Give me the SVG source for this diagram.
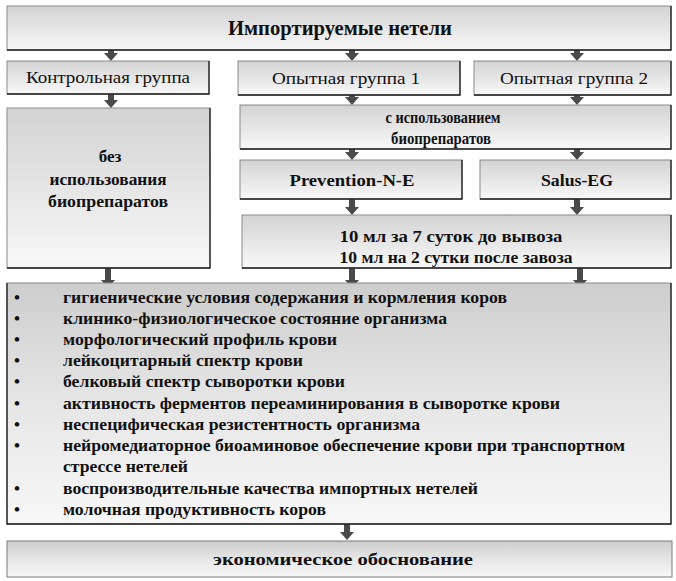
<svg xmlns="http://www.w3.org/2000/svg" width="676" height="581" viewBox="0 0 676 581" font-family="Liberation Serif, Times New Roman, serif">
<defs>
<linearGradient id="g" x1="0" y1="0" x2="0" y2="1">
<stop offset="0" stop-color="#d3d3d3"/>
<stop offset="1" stop-color="#f8f8f8"/>
</linearGradient>
<linearGradient id="g2" x1="0" y1="0" x2="0" y2="1">
<stop offset="0" stop-color="#cdcdcd"/>
<stop offset="0.5" stop-color="#e6e6e6"/>
<stop offset="1" stop-color="#f7f7f7"/>
</linearGradient>
<style>
.box{fill:url(#g);stroke:#8a8a8a;stroke-width:1}
.edge{fill:none;stroke:#1e1e1e;stroke-width:1.3}
.t{font-size:17px;fill:#111;text-anchor:middle}
.b{font-weight:bold}
.li{font-size:17px;font-weight:bold;fill:#111}
.arr{fill:#4a4a4a}
</style>
</defs>
<rect width="676" height="581" fill="#ffffff"/>

<g id="connectors">
<polygon class="arr" points="108,50 114,50 114,53 118,53 111,61 104,53 108,53"/>
<polygon class="arr" points="349,50 355,50 355,53 359,53 352,61 345,53 349,53"/>
<polygon class="arr" points="574,50 580,50 580,53 584,53 577,61 570,53 574,53"/>
<polygon class="arr" points="108,94 114,94 114,100 118,100 111,108 104,100 108,100"/>
<polygon class="arr" points="349,95 355,95 355,97 359,97 352,105 345,97 349,97"/>
<polygon class="arr" points="574,95 580,95 580,97 584,97 577,105 570,97 574,97"/>
<polygon class="arr" points="349,149 355,149 355,152 359,152 352,160 345,152 349,152"/>
<polygon class="arr" points="574,149 580,149 580,152 584,152 577,160 570,152 574,152"/>
<polygon class="arr" points="349,199 355,199 355,207 359,207 352,215 345,207 349,207"/>
<polygon class="arr" points="574,199 580,199 580,207 584,207 577,215 570,207 574,207"/>
<polygon class="arr" points="105,268 111,268 111,280 115,280 108,288 101,280 105,280"/>
<polygon class="arr" points="349,268 355,268 355,280 359,280 352,288 345,280 349,280"/>
<polygon class="arr" points="577,268 583,268 583,280 587,280 580,288 573,280 577,280"/>
<polygon class="arr" points="344,524 350,524 350,532 354,532 347,540 340,532 344,532"/>
</g>

<g id="top">
<rect class="box" x="7" y="6" width="664" height="44"/>
<polyline class="edge" points="7,50 671,50 671,6"/>
<text class="t b" x="340" y="35" style="font-size:20px" textLength="224" lengthAdjust="spacingAndGlyphs">Импортируемые нетели</text>
</g>

<g id="control">
<rect class="box" x="7" y="61" width="202" height="33"/>
<polyline class="edge" points="7,94 209,94 209,61"/>
<text class="t" x="108" y="83" textLength="164" lengthAdjust="spacingAndGlyphs">Контрольная группа</text>
</g>

<g id="exp1">
<rect class="box" x="238" y="61" width="222" height="34"/>
<polyline class="edge" points="238,95 460,95 460,61"/>
<text class="t" x="346" y="84" textLength="148" lengthAdjust="spacingAndGlyphs">Опытная группа 1</text>
</g>

<g id="exp2">
<rect class="box" x="474" y="61" width="197" height="34"/>
<polyline class="edge" points="474,95 671,95 671,61"/>
<text class="t" x="574" y="84" textLength="148" lengthAdjust="spacingAndGlyphs">Опытная группа 2</text>
</g>

<g id="without">
<rect class="box" x="7" y="108" width="203" height="160"/>
<polyline class="edge" points="7,268 210,268 210,108"/>
<text class="t b" x="110" y="162">без</text>
<text class="t b" x="108" y="185" textLength="117" lengthAdjust="spacingAndGlyphs">использования</text>
<text class="t b" x="108" y="207" textLength="120" lengthAdjust="spacingAndGlyphs">биопрепаратов</text>
</g>

<g id="with">
<rect class="box" x="240" y="105" width="431" height="44"/>
<polyline class="edge" points="240,149 671,149 671,105"/>
<text class="t b" x="443" y="123" textLength="115" lengthAdjust="spacingAndGlyphs">с использованием</text>
<text class="t b" x="441" y="144" textLength="100" lengthAdjust="spacingAndGlyphs">биопрепаратов</text>
</g>

<g id="prevention">
<rect class="box" x="240" y="160" width="222" height="39"/>
<polyline class="edge" points="240,199 462,199 462,160"/>
<text class="t b" x="352" y="186" textLength="125" lengthAdjust="spacingAndGlyphs">Prevention-N-E</text>
</g>

<g id="salus">
<rect class="box" x="480" y="160" width="191" height="39"/>
<polyline class="edge" points="480,199 671,199 671,160"/>
<text class="t b" x="577" y="186" textLength="72" lengthAdjust="spacingAndGlyphs">Salus-EG</text>
</g>

<g id="dose">
<rect class="box" x="242" y="215" width="429" height="53"/>
<polyline class="edge" points="242,268 671,268 671,215"/>
<text class="t b" x="451" y="242" textLength="223" lengthAdjust="spacingAndGlyphs">10 мл за 7 суток до вывоза</text>
<text class="t b" x="456" y="263" textLength="233" lengthAdjust="spacingAndGlyphs">10 мл на 2 сутки после завоза</text>
</g>

<g id="indicators">
<rect x="7" y="283" width="664" height="241" fill="url(#g2)" stroke="#8a8a8a" stroke-width="1"/>
<polyline class="edge" points="7,283 7,524 671,524 671,283"/>
<g class="li">
<text x="14" y="303">•</text>
<text x="63" y="303" textLength="444" lengthAdjust="spacingAndGlyphs">гигиенические условия содержания и кормления коров</text>
<text x="14" y="324">•</text>
<text x="63" y="324" textLength="384" lengthAdjust="spacingAndGlyphs">клинико-физиологическое состояние организма</text>
<text x="14" y="345">•</text>
<text x="63" y="345" textLength="274" lengthAdjust="spacingAndGlyphs">морфологический профиль крови</text>
<text x="14" y="366">•</text>
<text x="63" y="366" textLength="240" lengthAdjust="spacingAndGlyphs">лейкоцитарный спектр крови</text>
<text x="14" y="387">•</text>
<text x="63" y="387" textLength="282" lengthAdjust="spacingAndGlyphs">белковый спектр сыворотки крови</text>
<text x="14" y="409">•</text>
<text x="63" y="409" textLength="497" lengthAdjust="spacingAndGlyphs">активность ферментов переаминирования в сыворотке крови</text>
<text x="14" y="430">•</text>
<text x="63" y="430" textLength="357" lengthAdjust="spacingAndGlyphs">неспецифическая резистентность организма</text>
<text x="14" y="451">•</text>
<text x="63" y="451" textLength="562" lengthAdjust="spacingAndGlyphs">нейромедиаторное биоаминовое обеспечение крови при транспортном</text>
<text x="63" y="472" textLength="125" lengthAdjust="spacingAndGlyphs">стрессе нетелей</text>
<text x="14" y="494">•</text>
<text x="63" y="494" textLength="415" lengthAdjust="spacingAndGlyphs">воспроизводительные качества импортных нетелей</text>
<text x="14" y="515">•</text>
<text x="63" y="515" textLength="263" lengthAdjust="spacingAndGlyphs">молочная продуктивность коров</text>
</g>
</g>

<g id="economic">
<rect x="7" y="541" width="665" height="36" fill="url(#g2)" stroke="#7a7a7a" stroke-width="1"/>
<text class="t b" x="343" y="565" textLength="260" lengthAdjust="spacingAndGlyphs">экономическое обоснование</text>
</g>
</svg>
